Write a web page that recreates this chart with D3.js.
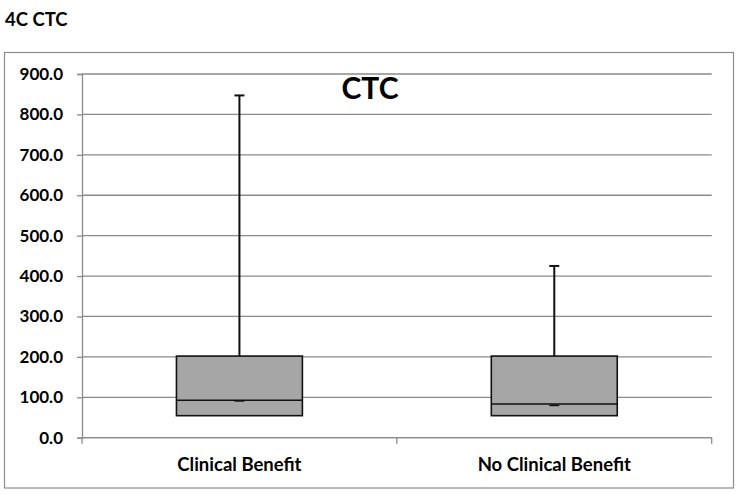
<!DOCTYPE html>
<html>
<head>
<meta charset="utf-8">
<script src="https://cdn.jsdelivr.net/npm/d3@7"></script>
<style>
  html, body { margin: 0; padding: 0; background: #fff; }
  text { font-family: Lato, "Open Sans", sans-serif; font-weight: bold; fill: #000; }
</style>
</head>
<body>
<svg id="chart" width="739" height="495"></svg>
<script>
const categories = ["Clinical Benefit", "No Clinical Benefit"];
const q1Values = [54.5, 54.5];
const medianValues = [92.5, 83.5];
const q3Values = [202, 202];
const maxValues = [847, 425];
const meanValues = [91, 80];
const yTicks = [0, 100, 200, 300, 400, 500, 600, 700, 800, 900];
const chartTitle = "CTC";
const figureLabel = "4C CTC";

const svg = d3.select("#chart");
const plot = { left: 82, right: 711.7, top: 74, bottom: 437.7 };

// outer frame
svg.append("rect")
  .attr("x", 4.5).attr("y", 52.5).attr("width", 729).attr("height", 435.5)
  .attr("fill", "none").attr("stroke", "#8c8c8c").attr("stroke-width", 1.2);

svg.append("text").attr("x", 5).attr("y", 26).attr("font-size", 18.5).text(figureLabel);

const y = d3.scaleLinear().domain([0, 900]).range([plot.bottom, plot.top]);
const x = d3.scaleBand().domain(categories).range([plot.left, plot.right]).paddingInner(0).paddingOuter(0);

// gridlines
svg.append("g").selectAll("line").data(yTicks).join("line")
  .attr("x1", plot.left).attr("x2", plot.right)
  .attr("y1", d => y(d)).attr("y2", d => y(d))
  .attr("stroke", "#8a8a8a").attr("stroke-width", 1.3);

// y axis
const yAxis = d3.axisLeft(y).tickValues(yTicks).tickFormat(d3.format(".1f")).tickSize(5).tickPadding(14);
const gy = svg.append("g").attr("transform", `translate(${plot.left},0)`).call(yAxis);
gy.select(".domain").attr("stroke", "#8a8a8a").attr("stroke-width", 1.3);
gy.selectAll(".tick line").attr("stroke", "#8a8a8a").attr("stroke-width", 1.3);
gy.selectAll(".tick text").attr("font-size", 17).attr("font-family", "Lato, sans-serif").attr("font-weight", "bold").attr("fill", "#000");

// x axis
const catBoundaries = [plot.left, ...categories.map(c => x(c) + x.bandwidth())];
svg.append("line").attr("x1", plot.left).attr("x2", plot.right)
  .attr("y1", plot.bottom).attr("y2", plot.bottom).attr("stroke", "#8a8a8a").attr("stroke-width", 1.3);
svg.append("g").selectAll("line").data(catBoundaries).join("line")
  .attr("x1", d => d).attr("x2", d => d)
  .attr("y1", plot.bottom).attr("y2", plot.bottom + 6)
  .attr("stroke", "#8a8a8a").attr("stroke-width", 1.3);
svg.append("g").selectAll("text").data(categories).join("text")
  .attr("x", d => x(d) + x.bandwidth() / 2).attr("y", 471)
  .attr("text-anchor", "middle").attr("font-size", 18.5).text(d => d);

// boxes
const boxW = x.bandwidth() * 0.4;
const data = categories.map((c, i) => ({ c, q1: q1Values[i], med: medianValues[i], q3: q3Values[i], max: maxValues[i], mean: meanValues[i] }));
const g = svg.append("g");
data.forEach(d => {
  const cx = x(d.c) + x.bandwidth() / 2;
  g.append("line").attr("x1", cx).attr("x2", cx).attr("y1", y(d.q3)).attr("y2", y(d.max))
    .attr("stroke", "#111").attr("stroke-width", 2);
  g.append("line").attr("x1", cx - 5).attr("x2", cx + 5).attr("y1", y(d.max)).attr("y2", y(d.max))
    .attr("stroke", "#111").attr("stroke-width", 2);
  g.append("rect").attr("x", cx - boxW / 2).attr("y", y(d.q3))
    .attr("width", boxW).attr("height", y(d.q1) - y(d.q3))
    .attr("fill", "#a6a6a6").attr("stroke", "#111").attr("stroke-width", 1.6);
  g.append("line").attr("x1", cx - boxW / 2).attr("x2", cx + boxW / 2).attr("y1", y(d.med)).attr("y2", y(d.med))
    .attr("stroke", "#111").attr("stroke-width", 1.6);
  g.append("line").attr("x1", cx - 5).attr("x2", cx + 5).attr("y1", y(d.mean)).attr("y2", y(d.mean))
    .attr("stroke", "#111").attr("stroke-width", 1.6);
});

svg.append("text").attr("x", 370).attr("y", 98.5)
  .attr("text-anchor", "middle").attr("font-size", 30).text(chartTitle);
</script>
</body>
</html>
